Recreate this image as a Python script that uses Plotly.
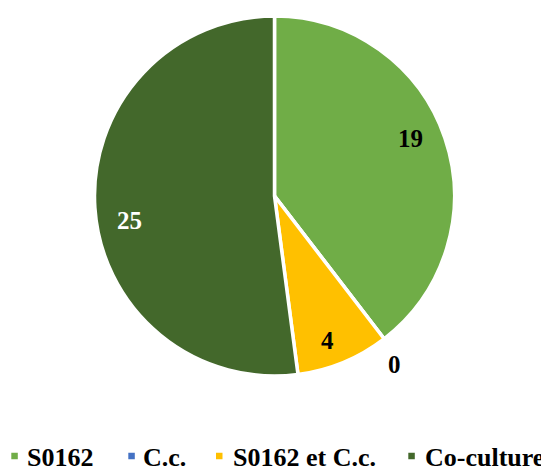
import math
import plotly.graph_objects as go

labels = ["S0162", "C.c.", "S0162 et C.c.", "Co-culture"]
values = [19, 0, 4, 25]
colors = ["#70AD47", "#4472C4", "#FFC000", "#43682B"]
text_colors = ["black", "black", "black", "white"]

W, H = 549, 471
# page offset of the figure (default body margin)
OFF = 8
# pie geometry (figure pixels)
CX, CY, R = 266.5, 188.0, 180.0
# small nudges of the data labels (px), like the reference's label placement
label_nudge = [(-4, -10), (-5, 6), (-3, 8), (2, 15)]
# legend layout (page pixels): marker left edges and text left edges
leg_marker_x = [11.3, 128.3, 216.0, 408.3]
leg_text_x = [27.3, 143.3, 232.7, 425.0]
LEG_Y = 456.0
MK = 6.5

fig = go.Figure(go.Pie(
    labels=labels,
    values=values,
    sort=False,
    direction="clockwise",
    rotation=0,
    marker=dict(colors=colors, line=dict(color="white", width=3.5)),
    textinfo="none",
    domain=dict(x=[(CX - R) / W, (CX + R) / W], y=[1 - (CY + R) / H, 1 - (CY - R) / H]),
    showlegend=False,
    hoverinfo="label+value",
))

total = sum(values)
cum = 0
annotations = []
for v, c, (nx, ny) in zip(values, text_colors, label_nudge):
    mid = 2 * math.pi * (cum + v / 2) / total
    cum += v
    r = 0.82 * R if v > 0 else 1.14 * R
    px = CX + r * math.sin(mid) + nx
    py = CY - r * math.cos(mid) + ny
    annotations.append(dict(
        x=px / W, y=1 - py / H, xref="paper", yref="paper",
        text=str(v), showarrow=False,
        font=dict(family="Liberation Serif", size=25, color=c, weight="bold"),
        xanchor="center", yanchor="middle",
    ))

shapes = []
for lab, col, mx, tx in zip(labels, colors, leg_marker_x, leg_text_x):
    fx = mx - OFF
    fy = LEG_Y - OFF
    shapes.append(dict(
        type="rect", xref="paper", yref="paper",
        x0=fx / W, x1=(fx + MK) / W,
        y0=1 - (fy + MK / 2) / H, y1=1 - (fy - MK / 2) / H,
        fillcolor=col, line=dict(width=0),
    ))
    annotations.append(dict(
        x=(tx - OFF - 2) / W, y=1 - (fy + 1) / H, xref="paper", yref="paper",
        text=lab, showarrow=False,
        font=dict(family="Liberation Serif", size=26, color="black", weight="bold"),
        xanchor="left", yanchor="middle",
    ))

fig.update_layout(
    width=W, height=H,
    margin=dict(l=0, r=0, t=0, b=0),
    paper_bgcolor="white",
    plot_bgcolor="white",
    annotations=annotations,
    shapes=shapes,
    showlegend=False,
)

fig.write_html("out.html")
